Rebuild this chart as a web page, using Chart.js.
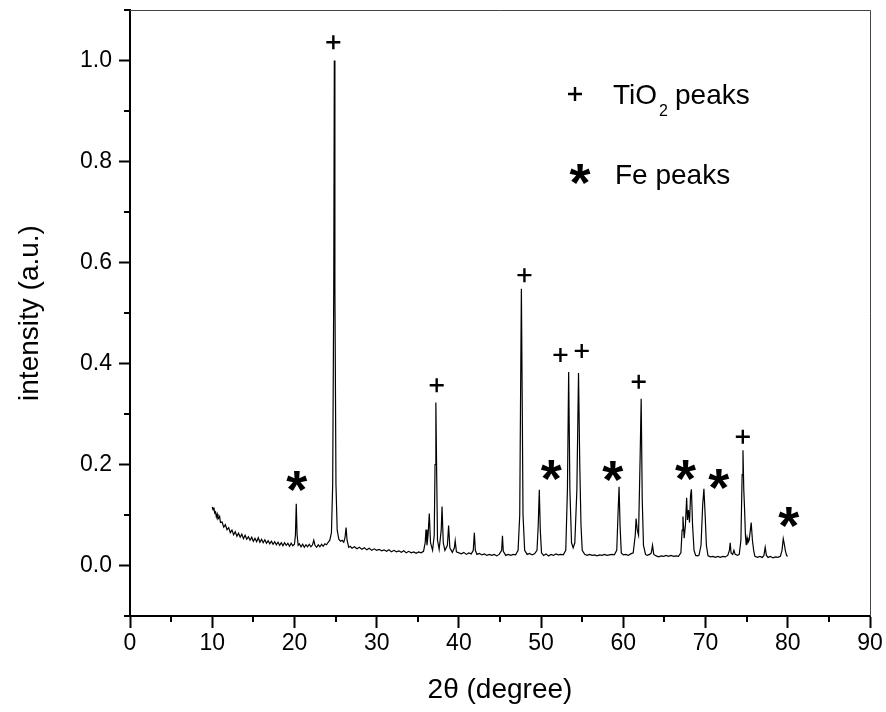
<!DOCTYPE html>
<html lang="en">
<head>
  <meta charset="UTF-8" />
  <title>XRD pattern</title>
  <style>
    body {
      margin: 0;
      padding: 0;
      background: #fff;
    }
    #chart {
      display: block;
    }
  </style>
</head>
<body>
  <canvas id="chart" width="886" height="712"></canvas>

  <script src="https://cdn.jsdelivr.net/npm/chart.js"></script>
  <script>
    // diffraction pattern (2theta in degrees, intensity normalised)
    const twoTheta = [
      10.00, 10.10, 10.20, 10.30, 10.40, 10.50, 10.60, 10.70, 10.80, 10.90,
      11.00, 11.20, 11.40, 11.60, 11.80, 12.00, 12.20, 12.40, 12.60, 12.80,
      13.00, 13.20, 13.40, 13.60, 13.80, 14.00, 14.20, 14.40, 14.60, 14.80,
      15.00, 15.20, 15.40, 15.60, 15.80, 16.00, 16.20, 16.40, 16.60, 16.80,
      17.00, 17.20, 17.40, 17.60, 17.80, 18.00, 18.20, 18.40, 18.60, 18.80,
      19.00, 19.20, 19.40, 19.60, 19.80, 20.00, 20.12, 20.22, 20.32, 20.45,
      20.60, 20.80, 21.00, 21.20, 21.40, 21.60, 21.80, 22.00, 22.20, 22.35,
      22.50, 22.70, 22.90, 23.10, 23.30, 23.50, 23.70, 23.90, 24.10, 24.30,
      24.50, 24.65, 24.78, 24.85, 24.92, 25.05, 25.20, 25.40, 25.60, 25.80,
      26.00, 26.15, 26.28, 26.40, 26.60, 26.80, 27.00, 27.30, 27.60, 27.90,
      28.20, 28.50, 28.80, 29.10, 29.40, 29.70, 30.00, 30.30, 30.60, 30.90,
      31.20, 31.50, 31.80, 32.10, 32.40, 32.70, 33.00, 33.30, 33.60, 33.90,
      34.20, 34.50, 34.80, 35.10, 35.40, 35.70, 35.90, 36.00, 36.12, 36.25,
      36.40, 36.55, 36.80, 37.00, 37.10, 37.20, 37.30, 37.40, 37.60, 37.85,
      37.95, 38.10, 38.30, 38.60, 38.75, 38.90, 39.20, 39.45, 39.55, 39.70,
      40.00, 40.30, 40.60, 40.90, 41.20, 41.50, 41.75, 41.88, 42.00, 42.20,
      42.50, 42.80, 43.10, 43.40, 43.70, 44.00, 44.30, 44.60, 44.90, 45.20,
      45.30, 45.40, 45.70, 46.00, 46.30, 46.60, 46.90, 47.20, 47.40, 47.50,
      47.60, 47.70, 47.80, 48.00, 48.30, 48.60, 48.90, 49.20, 49.50, 49.65,
      49.78, 49.90, 50.05, 50.30, 50.60, 50.90, 51.20, 51.50, 51.80, 52.10,
      52.40, 52.70, 53.00, 53.20, 53.35, 53.50, 53.70, 53.90, 54.10, 54.35,
      54.55, 54.70, 54.85, 55.00, 55.30, 55.60, 55.90, 56.20, 56.50, 56.80,
      57.10, 57.40, 57.70, 58.00, 58.30, 58.60, 58.90, 59.20, 59.35, 59.48,
      59.60, 59.75, 60.00, 60.30, 60.60, 60.90, 61.20, 61.45, 61.55, 61.70,
      61.85, 62.05, 62.17, 62.30, 62.45, 62.70, 62.90, 63.20, 63.40, 63.55,
      63.70, 64.00, 64.30, 64.60, 64.90, 65.20, 65.50, 65.80, 66.10, 66.40,
      66.70, 67.00, 67.15, 67.25, 67.40, 67.55, 67.70, 67.80, 67.92, 68.05,
      68.18, 68.28, 68.42, 68.60, 68.80, 69.00, 69.20, 69.45, 69.65, 69.80,
      69.95, 70.10, 70.30, 70.60, 70.90, 71.20, 71.50, 71.80, 72.10, 72.40,
      72.70, 72.90, 73.00, 73.10, 73.30, 73.45, 73.60, 73.90, 74.10, 74.30,
      74.45, 74.55, 74.65, 74.75, 74.85, 74.95, 75.05, 75.15, 75.30, 75.45,
      75.55, 75.70, 75.85, 76.00, 76.30, 76.60, 76.90, 77.10, 77.25, 77.40,
      77.60, 77.90, 78.20, 78.50, 78.80, 79.10, 79.30, 79.45, 79.55, 79.70,
      79.85, 80.00
    ];
    const intensity = [
      0.116, 0.110, 0.115, 0.104, 0.106, 0.096, 0.102, 0.092, 0.094, 0.097,
      0.085, 0.086, 0.076, 0.081, 0.071, 0.075, 0.065, 0.070, 0.061, 0.067,
      0.058, 0.064, 0.056, 0.062, 0.053, 0.060, 0.052, 0.057, 0.050, 0.056,
      0.048, 0.054, 0.047, 0.055, 0.046, 0.052, 0.045, 0.051, 0.044, 0.049,
      0.043, 0.048, 0.042, 0.047, 0.041, 0.046, 0.040, 0.045, 0.039, 0.045,
      0.040, 0.044, 0.038, 0.044, 0.039, 0.042, 0.060, 0.122, 0.062, 0.040,
      0.043, 0.037, 0.042, 0.036, 0.041, 0.037, 0.042, 0.037, 0.041, 0.050,
      0.040, 0.036, 0.041, 0.037, 0.042, 0.038, 0.043, 0.041, 0.046, 0.050,
      0.065, 0.160, 0.550, 1.000, 0.550, 0.160, 0.070, 0.052, 0.048, 0.050,
      0.046, 0.055, 0.075, 0.050, 0.036, 0.038, 0.034, 0.037, 0.033, 0.036,
      0.032, 0.035, 0.031, 0.034, 0.030, 0.033, 0.030, 0.032, 0.029, 0.031,
      0.028, 0.031, 0.027, 0.030, 0.027, 0.029, 0.026, 0.029, 0.025, 0.028,
      0.025, 0.027, 0.024, 0.027, 0.025, 0.028, 0.045, 0.071, 0.040, 0.060,
      0.103, 0.045, 0.030, 0.060, 0.200, 0.323, 0.180, 0.050, 0.032, 0.070,
      0.117, 0.045, 0.030, 0.040, 0.079, 0.035, 0.026, 0.035, 0.049, 0.027,
      0.025, 0.023, 0.026, 0.022, 0.025, 0.023, 0.030, 0.065, 0.030, 0.022,
      0.024, 0.021, 0.023, 0.020, 0.022, 0.020, 0.022, 0.019, 0.022, 0.030,
      0.059, 0.028, 0.020, 0.022, 0.020, 0.022, 0.021, 0.030, 0.100, 0.330,
      0.548, 0.330, 0.100, 0.030, 0.022, 0.024, 0.021, 0.023, 0.030, 0.080,
      0.150, 0.070, 0.025, 0.020, 0.023, 0.019, 0.022, 0.020, 0.023, 0.021,
      0.022, 0.021, 0.030, 0.150, 0.383, 0.150, 0.045, 0.035, 0.045, 0.150,
      0.381, 0.200, 0.080, 0.030, 0.022, 0.020, 0.022, 0.020, 0.021, 0.019,
      0.021, 0.020, 0.022, 0.020, 0.021, 0.022, 0.021, 0.030, 0.100, 0.156,
      0.080, 0.025, 0.021, 0.022, 0.020, 0.023, 0.025, 0.060, 0.093, 0.070,
      0.060, 0.220, 0.330, 0.130, 0.040, 0.022, 0.020, 0.022, 0.025, 0.040,
      0.022, 0.019, 0.017, 0.019, 0.018, 0.020, 0.018, 0.020, 0.018, 0.019,
      0.018, 0.025, 0.070, 0.097, 0.054, 0.080, 0.134, 0.090, 0.110, 0.085,
      0.140, 0.151, 0.080, 0.030, 0.020, 0.019, 0.020, 0.040, 0.120, 0.152,
      0.100, 0.040, 0.019, 0.017, 0.018, 0.016, 0.018, 0.016, 0.018, 0.017,
      0.020, 0.030, 0.045, 0.025, 0.022, 0.030, 0.022, 0.020, 0.022, 0.050,
      0.180, 0.228, 0.150, 0.110, 0.060, 0.040, 0.055, 0.045, 0.050, 0.070,
      0.085, 0.050, 0.030, 0.018, 0.016, 0.018, 0.016, 0.020, 0.036, 0.020,
      0.016, 0.018, 0.015, 0.017, 0.016, 0.018, 0.030, 0.053, 0.045, 0.030,
      0.020, 0.018
    ];

    // where the "+" (TiO2) and "*" (Fe) labels sit, in data units
    const tiMarkX = [24.73, 37.30, 47.97, 52.35, 54.94, 61.87, 74.53];
    const tiMarkY = [1.036, 0.357, 0.575, 0.417, 0.425, 0.364, 0.255];
    const feMarkX = [20.27, 51.22, 58.71, 67.56, 71.61, 80.12];
    const feMarkY = [0.166, 0.189, 0.186, 0.189, 0.171, 0.095];

    // tick values
    const xTicks = [0, 10, 20, 30, 40, 50, 60, 70, 80, 90];
    const xMinor = [5, 15, 25, 35, 45, 55, 65, 75, 85];
    const yTicks = [0, 0.2, 0.4, 0.6, 0.8, 1.0];
    const yMinor = [-0.1, 0.1, 0.3, 0.5, 0.7, 0.9, 1.1];

    const FONT = '"Liberation Sans", Arial, sans-serif';

    function drawGlyph(ctx, text, cx, cy) {
      const m = ctx.measureText(text);
      const x = cx - (m.actualBoundingBoxRight - m.actualBoundingBoxLeft) / 2;
      const y = cy + (m.actualBoundingBoxAscent - m.actualBoundingBoxDescent) / 2;
      ctx.fillText(text, x, y);
    }

    function drawPlus(ctx, cx, cy) {
      ctx.beginPath();
      ctx.moveTo(cx - 7, cy);
      ctx.lineTo(cx + 7, cy);
      ctx.moveTo(cx, cy - 7);
      ctx.lineTo(cx, cy + 7);
      ctx.stroke();
    }

    const extras = {
      id: 'extras',
      afterDraw(chart) {
        const ctx = chart.ctx;
        const area = chart.chartArea;
        const xs = chart.scales.x;
        const ys = chart.scales.y;
        ctx.save();

        // frame on top and right
        ctx.strokeStyle = '#444';
        ctx.lineWidth = 1;
        ctx.beginPath();
        ctx.moveTo(area.left, area.top + 0.5);
        ctx.lineTo(area.right + 0.5, area.top + 0.5);
        ctx.lineTo(area.right + 0.5, area.bottom);
        ctx.stroke();

        // minor ticks
        ctx.strokeStyle = '#000';
        ctx.lineWidth = 2;
        ctx.beginPath();
        xMinor.forEach(v => {
          const px = Math.round(xs.getPixelForValue(v));
          ctx.moveTo(px, area.bottom);
          ctx.lineTo(px, area.bottom + 6);
        });
        yMinor.forEach(v => {
          const py = Math.round(ys.getPixelForValue(v));
          ctx.moveTo(area.left, py);
          ctx.lineTo(area.left - 6, py);
        });
        ctx.stroke();

        // Fe asterisks
        ctx.fillStyle = '#000';
        ctx.font = 'bold 54px ' + FONT;
        chart.data.datasets.forEach((ds, i) => {
          if (!ds.glyph) return;
          chart.getDatasetMeta(i).data.forEach(pt => drawGlyph(ctx, ds.glyph, pt.x, pt.y));
        });

        // legend
        ctx.lineWidth = 2.4;
        drawPlus(ctx, 575, 94);
        drawGlyph(ctx, '*', 580, 174);
        ctx.font = '28px ' + FONT;
        ctx.textBaseline = 'alphabetic';
        ctx.fillText('TiO', 613, 104);
        const w1 = ctx.measureText('TiO').width;
        ctx.font = '16px ' + FONT;
        ctx.fillText('2', 613 + w1 + 2, 116);
        ctx.font = '28px ' + FONT;
        ctx.fillText('peaks', 675, 104);
        ctx.fillText('Fe peaks', 615, 184);

        ctx.restore();
      }
    };

    const ctx = document.getElementById('chart').getContext('2d');
    new Chart(ctx, {
      type: 'line',
      data: {
        datasets: [
          {
            label: 'pattern',
            data: twoTheta.map((x, i) => ({ x: x, y: intensity[i] })),
            borderColor: '#000',
            borderWidth: 1.2,
            pointRadius: 0,
            tension: 0,
            fill: false
          },
          {
            type: 'scatter',
            label: 'TiO2 peaks',
            data: tiMarkX.map((x, i) => ({ x: x, y: tiMarkY[i] })),
            pointStyle: 'cross',
            pointRadius: 7,
            borderColor: '#000',
            borderWidth: 2.4
          },
          {
            type: 'scatter',
            label: 'Fe peaks',
            glyph: '*',
            data: feMarkX.map((x, i) => ({ x: x, y: feMarkY[i] })),
            pointRadius: 0
          }
        ]
      },
      options: {
        responsive: false,
        animation: false,
        layout: { padding: { top: 10, right: 16, left: 0, bottom: 0 } },
        plugins: {
          legend: { display: false },
          tooltip: { enabled: false }
        },
        scales: {
          x: {
            type: 'linear',
            min: 0,
            max: 90,
            afterBuildTicks: s => { s.ticks = xTicks.map(v => ({ value: v })); },
            afterFit: s => { s.height = 96; },
            ticks: { color: '#000', font: { family: FONT, size: 23 }, padding: 2, maxRotation: 0 },
            grid: { drawOnChartArea: false, tickLength: 12, tickWidth: 2, tickColor: '#000' },
            border: { color: '#000', width: 2 },
            title: {
              display: true,
              text: '2θ (degree)',
              color: '#000',
              font: { family: FONT, size: 28 },
              padding: { top: 0, bottom: 5 }
            }
          },
          y: {
            type: 'linear',
            min: -0.1,
            max: 1.1,
            afterBuildTicks: s => { s.ticks = yTicks.map(v => ({ value: v })); },
            afterFit: s => { s.width = 130; s.paddingTop = 0; s.paddingBottom = 0; },
            ticks: {
              color: '#000',
              font: { family: FONT, size: 23 },
              padding: 7,
              callback: v => v.toFixed(1)
            },
            grid: { drawOnChartArea: false, tickLength: 11, tickWidth: 2, tickColor: '#000' },
            border: { color: '#000', width: 2 },
            title: {
              display: true,
              text: 'intensity (a.u.)',
              color: '#000',
              font: { family: FONT, size: 28 },
              padding: { top: 13, bottom: 0 }
            }
          }
        }
      },
      plugins: [extras]
    });
  </script>
</body>
</html>
